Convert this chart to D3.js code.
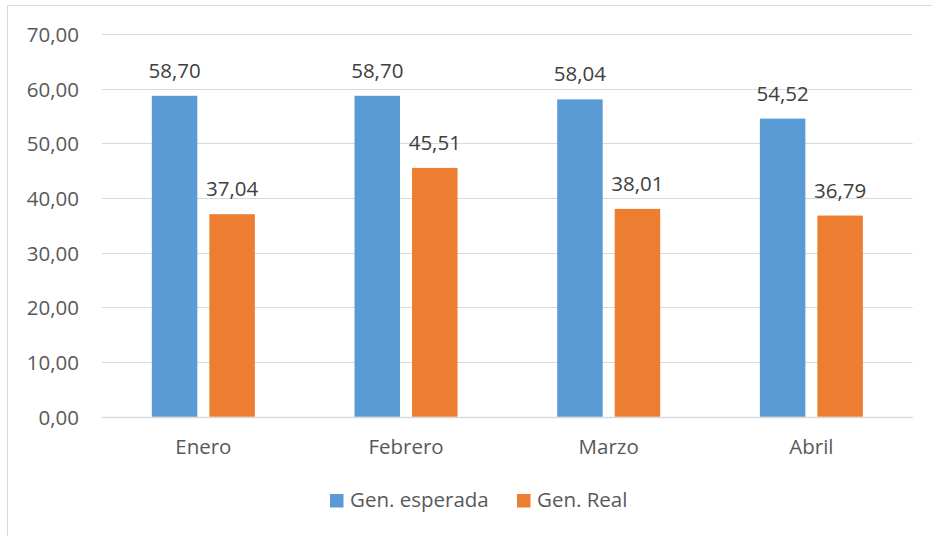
<!DOCTYPE html>
<html>
<head>
<meta charset="utf-8">
<script src="https://cdn.jsdelivr.net/npm/d3@7"></script>
<style>
  body { margin: 0; background: #fff; }
  svg { display: block; font-family: "Open Sans", Lato, sans-serif; }
</style>
</head>
<body>
<div id="chart-area"></div>
<script>
// data
var months = ["Enero", "Febrero", "Marzo", "Abril"];
var seriesNames = ["Gen. esperada", "Gen. Real"];
var esperada = [58.70, 58.70, 58.04, 54.52];
var real = [37.04, 45.51, 38.01, 36.79];
var yTicks = [0, 10, 20, 30, 40, 50, 60, 70];

var colors = ["#5B9BD5", "#ED7D31"];
var W = 932, H = 536;
var plot = { left: 102, right: 912.7, top: 34, bottom: 416.7 };
var fontSize = "20.5px";

var svg = d3.select("#chart-area")
  .append("svg")
    .attr("width", W)
    .attr("height", H);

// outer frame (bottom/right run off the picture)
svg.append("rect")
  .attr("x", 7.5).attr("y", 5.5)
  .attr("width", W).attr("height", H)
  .attr("fill", "none")
  .attr("stroke", "#D9D9D9")
  .attr("stroke-width", 1);

var rows = months.map(function(m, i) {
  return { month: m, values: [esperada[i], real[i]] };
});

// scales
var x0 = d3.scaleBand()
  .domain(months)
  .range([plot.left, plot.right])
  .padding(0);
var groupW = 103;
var x1 = d3.scaleBand()
  .domain(seriesNames)
  .range([(x0.bandwidth() - groupW) / 2, (x0.bandwidth() + groupW) / 2])
  .paddingInner(12 / 57.5)
  .paddingOuter(0);
var y = d3.scaleLinear()
  .domain([0, 70])
  .range([plot.bottom, plot.top]);

// gridlines
svg.append("g")
  .selectAll("line")
  .data(yTicks)
  .enter().append("line")
    .attr("x1", plot.left).attr("x2", plot.right)
    .attr("y1", function(d) { return Math.round(y(d)) + 0.5; })
    .attr("y2", function(d) { return Math.round(y(d)) + 0.5; })
    .attr("stroke", "#D9D9D9")
    .attr("stroke-width", function(d) { return d === 0 ? 1.5 : 1; });

// y axis labels
var yAxis = d3.axisLeft(y)
  .tickValues(yTicks)
  .tickSize(0)
  .tickPadding(0)
  .tickFormat(function(d) { return d3.format(".2f")(d).replace(".", ","); });
var gy = svg.append("g")
  .attr("transform", "translate(79,0)")
  .call(yAxis);
gy.select(".domain").remove();
gy.selectAll("text")
  .attr("fill", "#595959")
  .attr("font-size", fontSize)
  .attr("font-family", "'Open Sans', sans-serif")
  .attr("dy", "0.36em");

// bars
var groups = svg.append("g")
  .selectAll("g")
  .data(rows)
  .enter().append("g")
    .attr("transform", function(d) { return "translate(" + x0(d.month) + ",0)"; });

groups.selectAll("rect")
  .data(function(d) { return d.values.map(function(v, j) { return { name: seriesNames[j], v: v, j: j }; }); })
  .enter().append("rect")
    .attr("x", function(d) { return x1(d.name); })
    .attr("width", x1.bandwidth())
    .attr("y", function(d) { return y(d.v); })
    .attr("height", function(d) { return y(0) - y(d.v); })
    .attr("fill", function(d) { return colors[d.j]; });

groups.selectAll("text")
  .data(function(d) { return d.values.map(function(v, j) { return { name: seriesNames[j], v: v, j: j }; }); })
  .enter().append("text")
    .attr("x", function(d) { return x1(d.name) + x1.bandwidth() / 2; })
    .attr("y", function(d) { return y(d.v) - 18; })
    .attr("text-anchor", "middle")
    .attr("fill", "#404040")
    .attr("font-size", fontSize)
    .text(function(d) { return d3.format(".2f")(d.v).replace(".", ","); });

// x axis labels
var xAxis = d3.axisBottom(x0).tickSize(0).tickPadding(0);
var gx = svg.append("g")
  .attr("transform", "translate(0," + (plot.bottom + 37) + ")")
  .call(xAxis);
gx.select(".domain").remove();
gx.selectAll("text")
  .attr("fill", "#595959")
  .attr("font-size", fontSize)
  .attr("font-family", "'Open Sans', sans-serif")
  .attr("dy", 0);

// legend
var legendX = [330, 517];
var legend = svg.append("g")
  .selectAll("g")
  .data(seriesNames)
  .enter().append("g")
    .attr("transform", function(d, i) { return "translate(" + legendX[i] + ",494)"; });
legend.append("rect")
  .attr("width", 13.5).attr("height", 13.5)
  .attr("fill", function(d, i) { return colors[i]; });
legend.append("text")
  .attr("x", 20).attr("y", 13)
  .attr("fill", "#595959")
  .attr("font-size", fontSize)
  .text(function(d) { return d; });
</script>
</body>
</html>
